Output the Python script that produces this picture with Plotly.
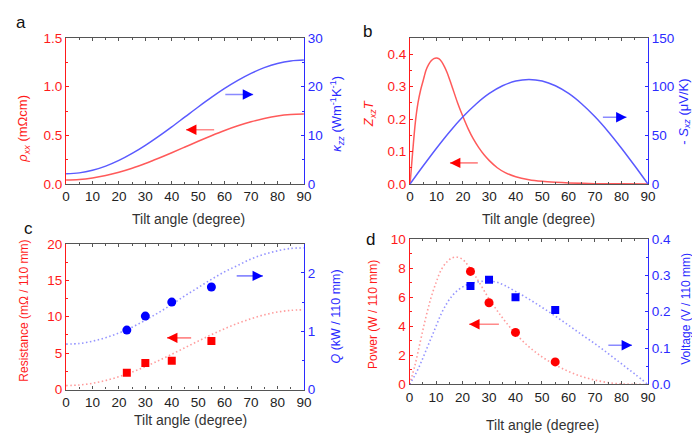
import plotly.graph_objects as go

# ---------------- data ----------------
x_ticks = [0, 10, 20, 30, 40, 50, 60, 70, 80, 90]

angle5 = [0, 5, 10, 15, 20, 25, 30, 35, 40, 45, 50, 55, 60, 65, 70, 75, 80, 85, 90]

# panel a
rho_xx = [0.040, 0.045, 0.061, 0.086, 0.120, 0.161, 0.210, 0.264, 0.321, 0.380,
          0.439, 0.496, 0.550, 0.598, 0.640, 0.674, 0.700, 0.715, 0.720]
kappa_zz = [2.1, 2.28, 2.81, 3.67, 4.84, 6.28, 7.95, 9.80, 11.76, 13.80,
            15.84, 17.80, 19.65, 21.31, 22.76, 23.93, 24.80, 25.32, 25.5]

# panel b
zt_angle = [0, 1, 2, 3, 4, 5, 6, 7, 8, 9, 10, 11, 12, 13, 14, 15, 16, 18, 20, 22,
            24, 26, 28, 30, 33, 36, 40, 45, 50, 55, 60, 70, 80, 90]
zt = [0.0, 0.10, 0.19, 0.25, 0.29, 0.32, 0.350, 0.368, 0.380, 0.387, 0.389, 0.386,
      0.377, 0.362, 0.344, 0.322, 0.298, 0.250, 0.208, 0.170, 0.138, 0.112, 0.090,
      0.072, 0.050, 0.035, 0.022, 0.013, 0.008, 0.005, 0.003, 0.001, 0.0003, 0.0]
neg_seebeck = [0, 18.7, 36.8, 53.8, 69.1, 82.3, 93.1, 101.0, 105.9, 107.5,
               105.9, 101.0, 93.1, 82.3, 69.1, 53.8, 36.8, 18.7, 0]

# panel c
res_fit = [0.55, 0.63, 0.86, 1.25, 1.77, 2.41, 3.15, 3.97, 4.85, 5.75,
           6.65, 7.53, 8.35, 9.09, 9.73, 10.25, 10.64, 10.87, 10.95]
q_fit = [0.78, 0.79, 0.83, 0.89, 0.97, 1.07, 1.19, 1.32, 1.46, 1.61,
         1.75, 1.89, 2.02, 2.13, 2.24, 2.32, 2.38, 2.42, 2.43]
meas_angle = [23, 30, 40, 55]
res_meas = [2.30, 3.66, 3.97, 6.67]
q_meas = [1.02, 1.26, 1.50, 1.76]

# panel d
pow_angle = [0, 2, 4, 6, 8, 10, 12, 14, 16, 18, 20, 22, 25, 30, 35, 40, 45, 50,
             55, 60, 65, 70, 75, 80, 85, 90]
pow_fit = [0, 1.3, 2.9, 4.5, 5.9, 7.0, 7.9, 8.4, 8.7, 8.75, 8.6, 8.2, 7.4, 5.9,
           4.6, 3.5, 2.6, 1.9, 1.35, 0.9, 0.55, 0.3, 0.13, 0.04, 0.01, 0]
volt_angle = [0, 2, 4, 6, 8, 10, 12, 14, 16, 18, 20, 22, 25, 28, 30, 33, 36, 40,
              45, 50, 55, 60, 65, 70, 75, 80, 85, 90]
volt_fit = [0, 0.025, 0.055, 0.09, 0.125, 0.16, 0.195, 0.222, 0.243, 0.258, 0.268,
            0.275, 0.281, 0.284, 0.284, 0.281, 0.272, 0.256, 0.235, 0.212, 0.188,
            0.163, 0.137, 0.112, 0.085, 0.057, 0.029, 0]
pow_meas = [7.77, 5.62, 3.58, 1.55]
volt_meas = [0.271, 0.288, 0.240, 0.205]

# ---------------- styling ----------------
W, H = 700, 434
FONT = "Liberation Sans, Arial, sans-serif"
RED = "#ff1a1a"
BLUE = "#2b2bff"
RED_LINE = "#ff5a5a"
BLUE_LINE = "#5a5aff"
RED_DOT = "rgba(255,90,90,0.6)"
BLUE_DOT = "rgba(90,90,255,0.65)"
AX = "#555555"
TICK_SIZE = 13.5


def dom_x(a, b):
    return [a / W, b / W]


def dom_y(top, bottom):
    return [1 - bottom / H, 1 - top / H]


panels = {
    1: dict(x=dom_x(55, 297), y=dom_y(24, 175)),
    2: dict(x=dom_x(405, 647), y=dom_y(24, 175)),
    3: dict(x=dom_x(55, 297), y=dom_y(237, 388)),
    4: dict(x=dom_x(404.5, 647), y=dom_y(232, 382.7)),
}

left_axes = {
    1: dict(range=[0, 1.5], dtick=0.5, tickformat=".1f", minor=0.25),
    2: dict(range=[0, 0.45], dtick=0.1, tickformat=".1f", minor=0.05),
    3: dict(range=[0, 20], dtick=5, tickformat="d", minor=2.5),
    4: dict(range=[0, 10], dtick=2, tickformat="d", minor=1),
}
right_axes = {
    1: dict(range=[0, 30], dtick=10, tickformat="d", minor=5),
    2: dict(range=[0, 150], dtick=50, tickformat="d", minor=25),
    3: dict(range=[0, 2.5], dtick=1, tickformat="d", minor=0.5),
    4: dict(range=[0, 0.4], dtick=0.1, tickformat=".1f", minor=0.05),
}

fig = go.Figure()
layout = dict(
    width=W, height=H, margin=dict(l=0, r=0, t=0, b=0),
    paper_bgcolor="white", plot_bgcolor="white", showlegend=False,
    font=dict(family=FONT, size=14, color="#222222"),
)

for i in range(1, 5):
    xk = "xaxis" if i == 1 else f"xaxis{i}"
    yl = 2 * i - 1
    yr = 2 * i
    ylk = "yaxis" if yl == 1 else f"yaxis{yl}"
    yrk = f"yaxis{yr}"
    xname = "x" if i == 1 else f"x{i}"
    ylname = "y" if yl == 1 else f"y{yl}"
    layout[xk] = dict(
        domain=panels[i]["x"], anchor=ylname, range=[0, 90], tickvals=x_ticks,
        showline=True, linecolor=AX, linewidth=1.3, mirror="ticks",
        ticks="inside", ticklen=3, tickcolor=AX, showgrid=False, zeroline=False,
        tickfont=dict(size=TICK_SIZE, color="#222222"),
        minor=dict(ticks="inside", ticklen=2, dtick=5, tickcolor=AX),
    )
    la = left_axes[i]
    layout[ylk] = dict(
        domain=panels[i]["y"], anchor=xname, range=la["range"], dtick=la["dtick"],
        tickformat=la["tickformat"], showline=True, linecolor=RED, linewidth=1.3,
        ticks="inside", ticklen=3, tickcolor=RED, showgrid=False, zeroline=False,
        tickfont=dict(size=TICK_SIZE, color=RED),
        minor=dict(ticks="inside", ticklen=2, dtick=la["minor"], tickcolor=RED),
    )
    ra = right_axes[i]
    layout[yrk] = dict(
        overlaying=ylname, side="right", anchor=xname, range=ra["range"],
        dtick=ra["dtick"], tickformat=ra["tickformat"], showline=True,
        linecolor=BLUE, linewidth=1.3, ticks="inside", ticklen=3, tickcolor=BLUE,
        showgrid=False, zeroline=False, tickfont=dict(size=TICK_SIZE, color=BLUE),
        minor=dict(ticks="inside", ticklen=2, dtick=ra["minor"], tickcolor=BLUE),
    )

fig.update_layout(**layout)

DOT = "1.5px,2.5px"

# panel a
fig.add_trace(go.Scatter(x=angle5, y=rho_xx, mode="lines", line=dict(color=RED_LINE, width=1.5, shape="spline"), xaxis="x", yaxis="y"))
fig.add_trace(go.Scatter(x=angle5, y=kappa_zz, mode="lines", line=dict(color=BLUE_LINE, width=1.5, shape="spline"), xaxis="x", yaxis="y2"))
# panel b
fig.add_trace(go.Scatter(x=zt_angle, y=zt, mode="lines", line=dict(color=RED_LINE, width=1.5, shape="spline", smoothing=0.8), xaxis="x2", yaxis="y3"))
fig.add_trace(go.Scatter(x=angle5, y=neg_seebeck, mode="lines", line=dict(color=BLUE_LINE, width=1.5, shape="spline"), xaxis="x2", yaxis="y4"))
# panel c
fig.add_trace(go.Scatter(x=angle5, y=res_fit, mode="lines", line=dict(color=RED_DOT, width=1.6, dash=DOT, shape="spline"), xaxis="x3", yaxis="y5"))
fig.add_trace(go.Scatter(x=angle5, y=q_fit, mode="lines", line=dict(color=BLUE_DOT, width=1.6, dash=DOT, shape="spline"), xaxis="x3", yaxis="y6"))
fig.add_trace(go.Scatter(x=meas_angle, y=res_meas, mode="markers", marker=dict(symbol="square", size=8, color="#ff0000"), xaxis="x3", yaxis="y5"))
fig.add_trace(go.Scatter(x=meas_angle, y=q_meas, mode="markers", marker=dict(symbol="circle", size=9, color="#0000ff"), xaxis="x3", yaxis="y6"))
# panel d
fig.add_trace(go.Scatter(x=pow_angle, y=pow_fit, mode="lines", line=dict(color=RED_DOT, width=1.6, dash=DOT, shape="spline"), xaxis="x4", yaxis="y7"))
fig.add_trace(go.Scatter(x=volt_angle, y=volt_fit, mode="lines", line=dict(color=BLUE_DOT, width=1.6, dash=DOT, shape="spline"), xaxis="x4", yaxis="y8"))
fig.add_trace(go.Scatter(x=meas_angle, y=pow_meas, mode="markers", marker=dict(symbol="circle", size=9, color="#ff0000"), xaxis="x4", yaxis="y7"))
fig.add_trace(go.Scatter(x=meas_angle, y=volt_meas, mode="markers", marker=dict(symbol="square", size=8, color="#0000ff"), xaxis="x4", yaxis="y8"))

ann = []


def arrow(xr, yr, x_tail, x_head, y, line_col, head_col):
    ann.append(dict(xref=xr, yref=yr, axref=xr, ayref=yr, x=x_head, y=y, ax=x_tail, ay=y,
                    text="", showarrow=True, arrowhead=0, arrowwidth=1.6, arrowcolor=line_col))
    step = 2.0 if x_head > x_tail else -2.0
    ann.append(dict(xref=xr, yref=yr, axref=xr, ayref=yr, x=x_head, y=y, ax=x_head - step, ay=y,
                    text="", showarrow=True, arrowhead=2, arrowsize=1.3, arrowwidth=1.6, arrowcolor=head_col))


LR = "rgba(255,110,110,0.8)"
LB = "rgba(110,110,255,0.8)"
arrow("x", "y", 56.6, 45.4, 0.557, LR, "#ff0000")
arrow("x", "y2", 59.7, 70.8, 18.4, LB, "#0000ff")
arrow("x2", "y3", 26.2, 15.1, 0.065, LR, "#ff0000")
arrow("x2", "y4", 72.4, 81.9, 68.7, LB, "#0000ff")
arrow("x3", "y5", 47.9, 38.2, 7.1, LR, "#ff0000")
arrow("x3", "y6", 64.0, 74.5, 1.95, LB, "#0000ff")
arrow("x4", "y7", 34.3, 22.5, 4.14, LR, "#ff0000")
arrow("x4", "y8", 74.5, 84.0, 0.108, LB, "#0000ff")


def text(x, y, s, color="#222222", size=14, angle=0):
    ann.append(dict(xref="paper", yref="paper", x=x / W, y=1 - y / H, text=s, showarrow=False,
                    textangle=angle, xanchor="center", yanchor="middle",
                    font=dict(family=FONT, size=size, color=color)))


# panel letters
text(9, 8, "a", "#111111", 17)
text(362, 17, "b", "#111111", 17)
text(17, 221, "c", "#111111", 17)
text(365, 233, "d", "#111111", 17)

# x titles
text(180, 211, "Tilt angle (degree)", "#333333", 14)
text(536, 211, "Tilt angle (degree)", "#333333", 14)
text(182, 419, "Tilt angle (degree)", "#333333", 14)
text(540, 425, "Tilt angle (degree)", "#333333", 14)

# y titles
text(12, 118, "<i>ρ</i><sub><i>xx</i></sub> (mΩcm)", RED, 13, -90)
text(331, 102, "<i>κ</i><sub><i>zz</i></sub> (Wm<sup>-1</sup>K<sup>-1</sup>)", BLUE, 13, -90)
text(364, 102, "<i>Z</i><sub><i>xz</i></sub><i>T</i>", RED, 13, -90)
text(684, 100, "- <i>S</i><sub><i>xz</i></sub> (μV/K)", BLUE, 13, -90)
text(12.5, 306, "Resistance (mΩ / 110 mm)", RED, 12, -90)
text(330, 312, "<i>Q</i> (kW / 110 mm)", BLUE, 12.5, -90)
text(368, 310, "Power (W / 110 mm)", RED, 12, -90)
text(686, 304, "Voltage (V / 110 mm)", BLUE, 12, -90)

fig.update_layout(annotations=ann)
fig.write_html("out.html")
